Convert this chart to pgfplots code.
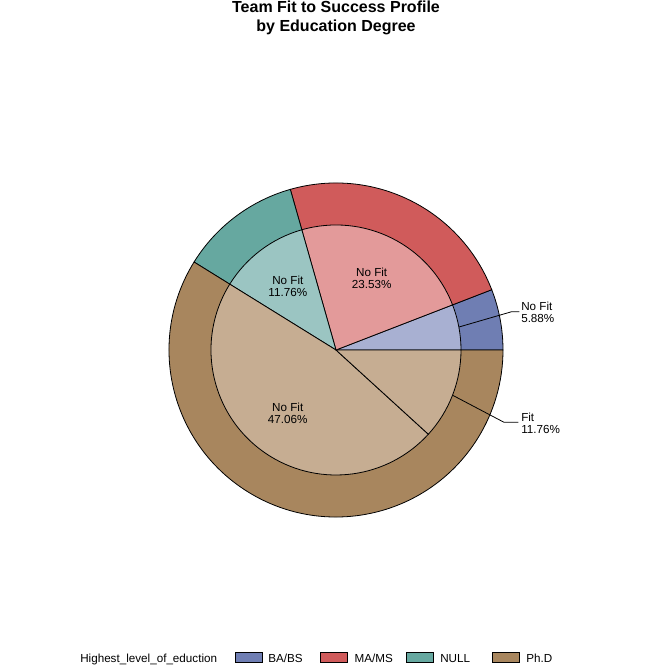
\documentclass[border=0pt]{standalone}
\usepackage{pgfplots}
\pgfplotsset{compat=1.18}
\usepackage{fontspec}
\setmainfont{Liberation Sans}

\definecolor{baO}{HTML}{6F7EB3}
\definecolor{maO}{HTML}{D05B5B}
\definecolor{nuO}{HTML}{66A8A0}
\definecolor{phO}{HTML}{A8865E}
\definecolor{baI}{HTML}{A8B0D2}
\definecolor{maI}{HTML}{E39A9A}
\definecolor{nuI}{HTML}{9BC5C2}
\definecolor{phI}{HTML}{C6AD92}

% one wedge: colour, start angle, end angle, radius
\newcommand\slice[4]{%
  \filldraw[fill=#1,draw=black,line width=0.6pt]
    (axis cs:336,322) -- ++(#2:#4) arc[start angle=#2,end angle=#3,radius=#4] -- cycle;}

\begin{document}
\begin{tikzpicture}
% shares in percent: BA/BS No Fit, MA/MS No Fit, NULL No Fit, Ph.D No Fit, Ph.D Fit
\def\pBA{5.88}\def\pMA{23.53}\def\pNU{11.76}\def\pPHn{47.06}\def\pPHf{11.76}
\pgfmathsetmacro\aA{3.6*\pBA}
\pgfmathsetmacro\aB{\aA+3.6*\pMA}
\pgfmathsetmacro\aC{\aB+3.6*\pNU}
\pgfmathsetmacro\aD{\aC+3.6*\pPHn}
\pgfmathsetmacro\aE{\aD+3.6*\pPHf}
\pgfmathsetmacro\mBA{\aA/2}
\pgfmathsetmacro\mMA{(\aA+\aB)/2}
\pgfmathsetmacro\mNU{(\aB+\aC)/2}
\pgfmathsetmacro\mPHn{(\aC+\aD)/2}
\pgfmathsetmacro\mPHf{(\aD+\aE)/2}
\def\Ro{125.25pt}\def\Ri{93.75pt}
\begin{axis}[x=0.75pt,y=0.75pt,xmin=0,xmax=672,ymin=0,ymax=672,
  hide axis,clip=false]
\path (axis cs:0,0) rectangle (axis cs:672,672);
% outer ring: education level
\slice{baO}{0}{\aA}{\Ro}
\slice{maO}{\aA}{\aB}{\Ro}
\slice{nuO}{\aB}{\aC}{\Ro}
\slice{phO}{\aC}{\aE}{\Ro}
% inner pie: fit within each level
\slice{baI}{0}{\aA}{\Ri}
\slice{maI}{\aA}{\aB}{\Ri}
\slice{nuI}{\aB}{\aC}{\Ri}
\slice{phI}{\aC}{\aD}{\Ri}
\slice{phI}{\aD}{\aE}{\Ri}

\tikzset{lbl/.style={font=\fontsize{8.75}{9}\selectfont,inner sep=0pt}}
\path (axis cs:336,322) ++(\mMA:60pt) node[lbl,align=center]{No Fit\\23.53\%};
\path (axis cs:336,322) ++(\mNU:60pt) node[lbl,align=center]{No Fit\\11.76\%};
\path (axis cs:336,322) ++(\mPHn:60pt) node[lbl,align=center]{No Fit\\47.06\%};

\draw[line width=0.6pt] (axis cs:336,322) ++(\mBA:\Ri) -- (axis cs:511.7,360.3) -- (axis cs:519.3,360.3);
\node[lbl,align=left,anchor=west] at (axis cs:521,359.3) {No Fit\\5.88\%};
\draw[line width=0.6pt] (axis cs:336,322) ++(\mPHf:\Ri) -- (axis cs:504,249.7) -- (axis cs:518.3,249.7);
\node[lbl,align=left,anchor=west] at (axis cs:521,248.7) {Fit\\11.76\%};

% title
\node[anchor=base,font=\fontsize{12}{14}\selectfont\bfseries,inner sep=0pt] at (axis cs:336,659.3) {Team Fit to Success Profile};
\node[anchor=base,font=\fontsize{12}{14}\selectfont\bfseries,inner sep=0pt] at (axis cs:336,640) {by Education Degree};

% legend
\node[lbl,anchor=base west] at (axis cs:80,10) {Highest\_level\_of\_eduction};
\filldraw[fill=baO,line width=0.6pt] (axis cs:235.7,9.7) rectangle (axis cs:262.7,19.3);
\node[lbl,anchor=base west] at (axis cs:268,10) {BA/BS};
\filldraw[fill=maO,line width=0.6pt] (axis cs:320.7,9.7) rectangle (axis cs:347.7,19.3);
\node[lbl,anchor=base west] at (axis cs:354.3,10) {MA/MS};
\filldraw[fill=nuO,line width=0.6pt] (axis cs:406.7,9.7) rectangle (axis cs:433.7,19.3);
\node[lbl,anchor=base west] at (axis cs:440,10) {NULL};
\filldraw[fill=phO,line width=0.6pt] (axis cs:492.3,9.7) rectangle (axis cs:519.3,19.3);
\node[lbl,anchor=base west] at (axis cs:526,10) {Ph.D};
\end{axis}
\end{tikzpicture}
\end{document}
